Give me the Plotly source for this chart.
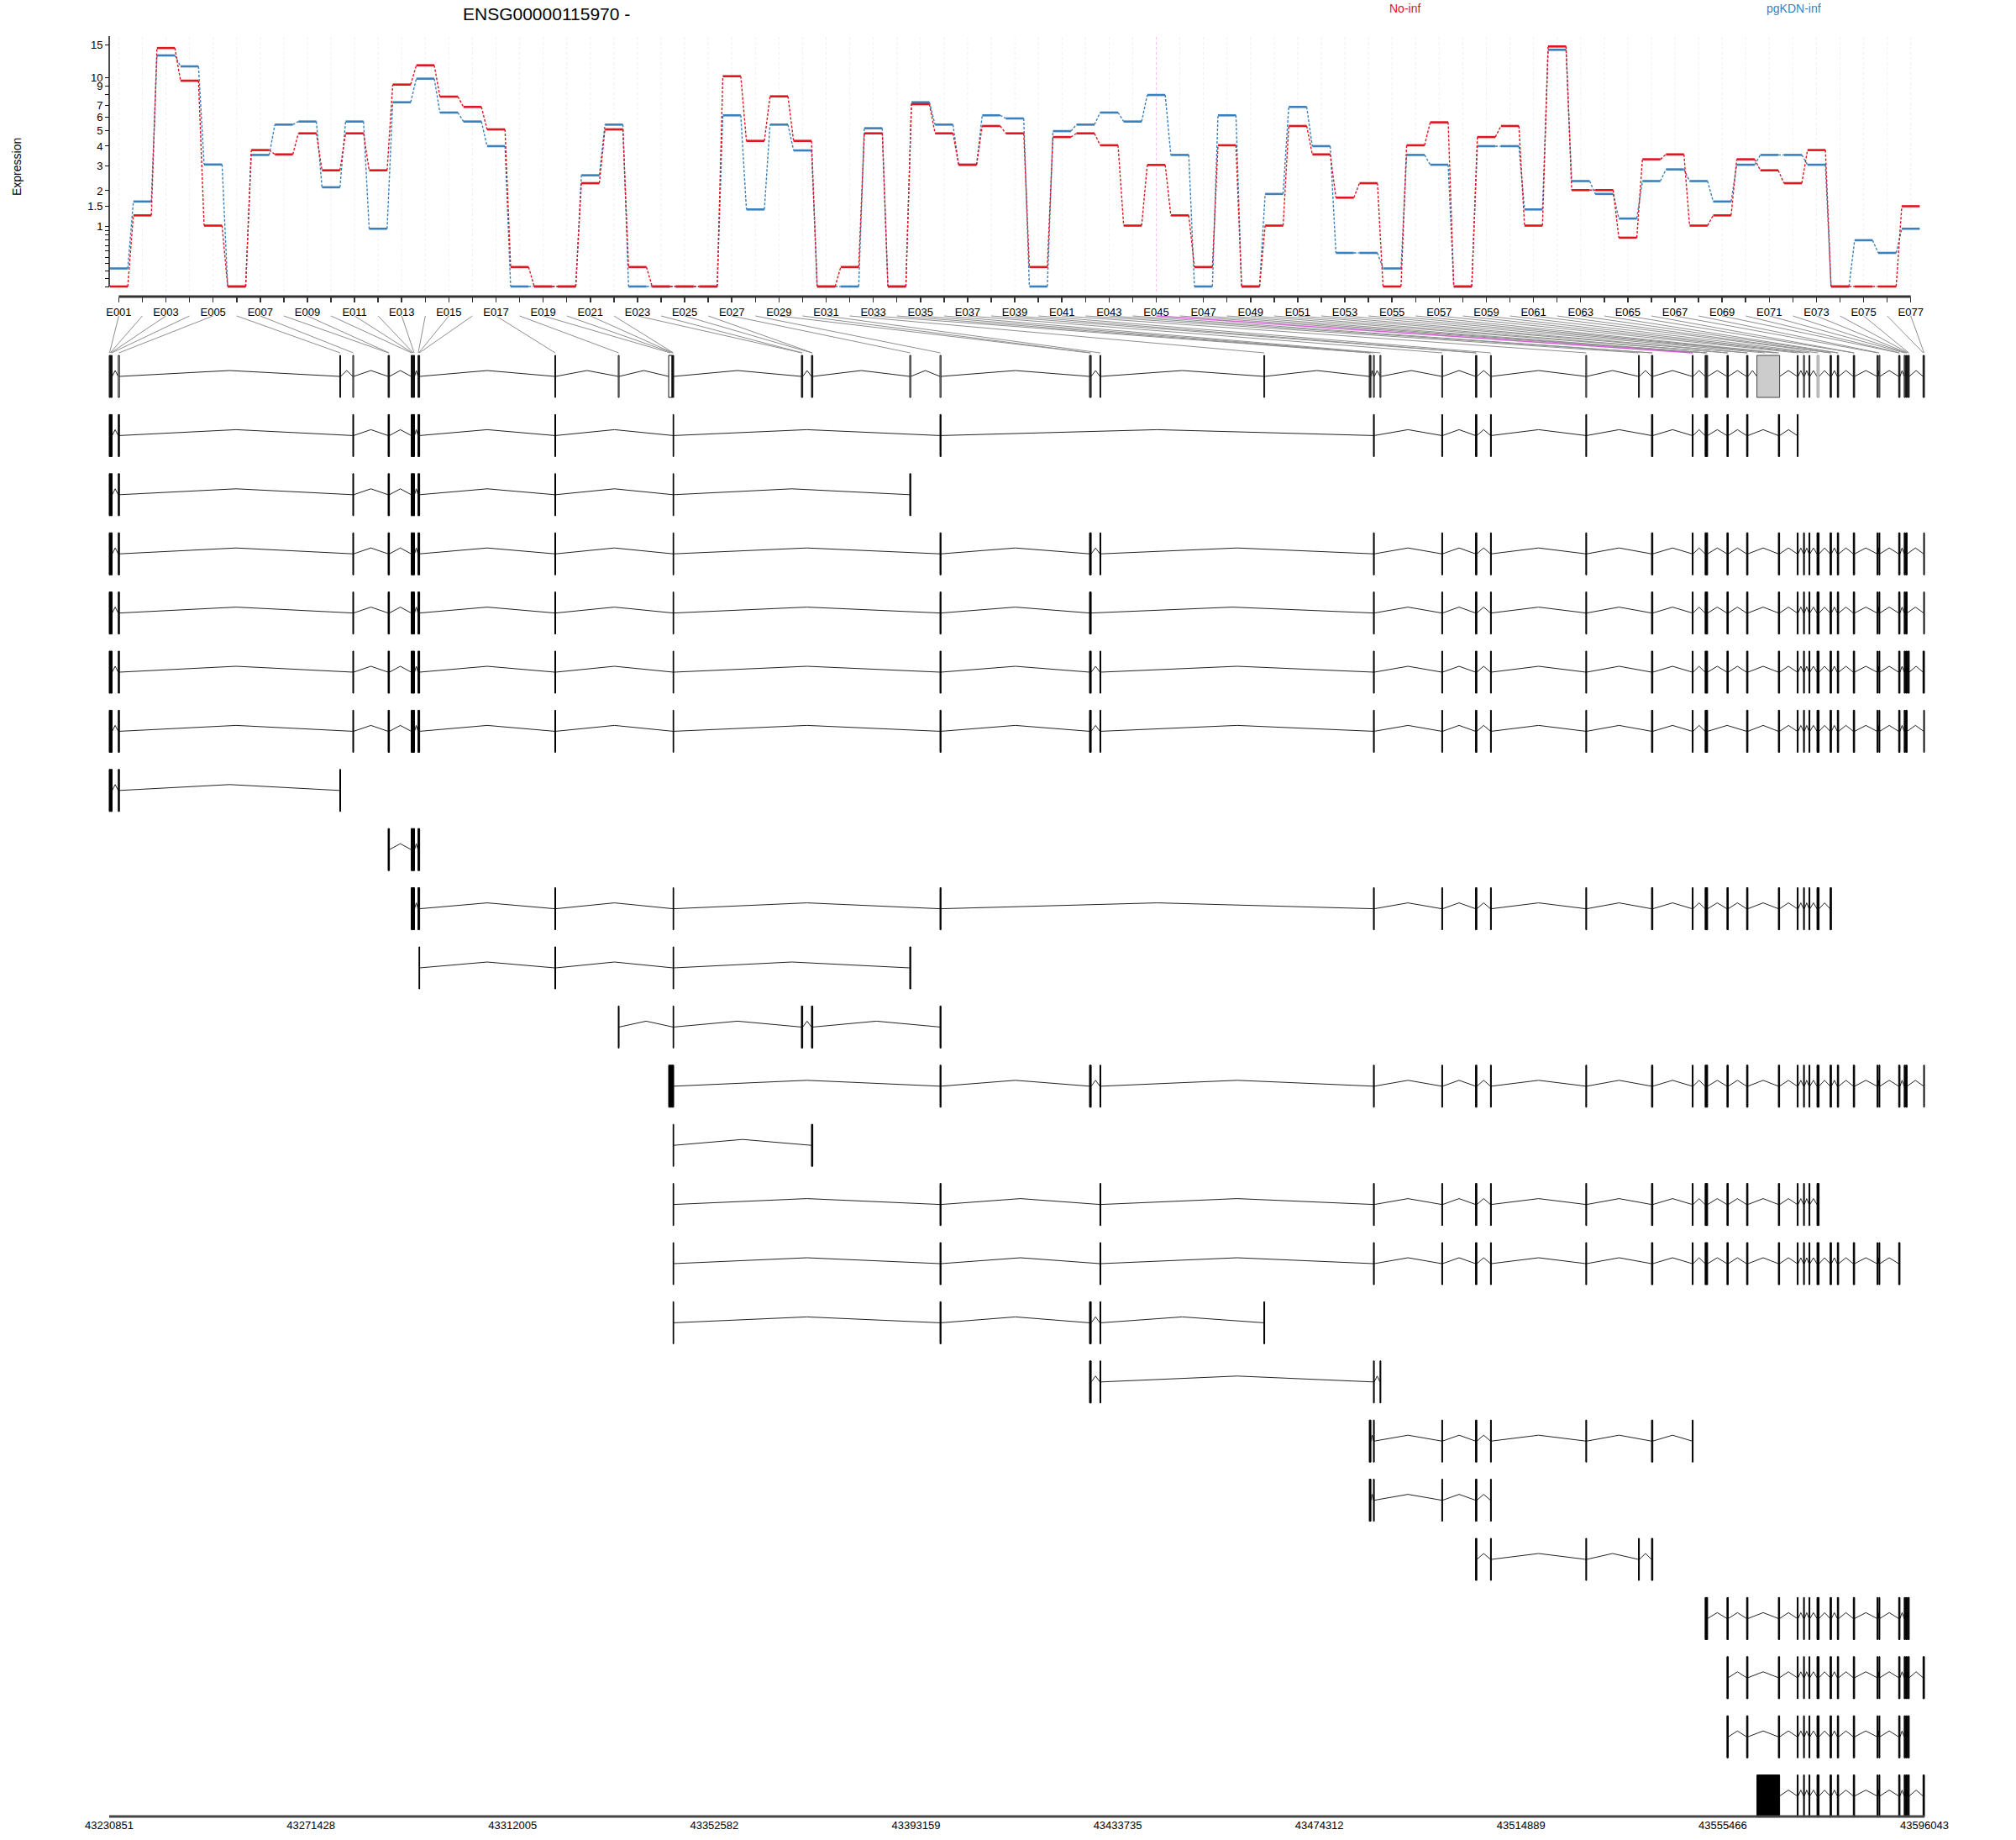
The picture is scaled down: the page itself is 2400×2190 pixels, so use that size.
import math
import plotly.graph_objects as go

W, H = 2400, 2190
PAGE_OFFSET = 0  # body margin is removed after plotting (see post_script)

# ---------------- data ----------------
exon_ids = ["E%03d" % i for i in range(1, 78)]

no_inf = [0, 1.26, 14.4, 9.59, 1.01, 0, 3.78, 3.55, 4.79, 2.79,
          4.79, 2.79, 9.13, 11.64, 7.82, 6.84, 5.06, 0.25, 0, 0,
          2.27, 5.06, 0.25, 0, 0, 0, 10.15, 4.31, 7.85, 4.31,
          0, 0.25, 4.79, 0, 7.09, 4.79, 3.04, 5.30, 4.79, 0.25,
          4.55, 4.79, 4.05, 1.01, 3.03, 1.26, 0.25, 4.05, 0, 1.01,
          5.30, 3.55, 1.77, 2.27, 0, 4.05, 5.57, 0, 4.55, 5.30,
          1.01, 14.68, 2.02, 2.02, 0.75, 3.30, 3.55, 1.01, 1.26, 3.30,
          2.79, 2.27, 3.78, 0, 0, 0, 1.51]

pgkdn_inf = [0.23, 1.65, 13.15, 11.48, 3.05, 0, 3.52, 5.40, 5.63, 2.12,
             5.63, 0.94, 7.27, 9.84, 6.35, 5.63, 4.00, 0, 0, 0,
             2.58, 5.40, 0, 0, 0, 0, 6.12, 1.42, 5.40, 3.76,
             0, 0, 5.14, 0, 7.27, 5.40, 3.04, 6.12, 5.87, 0,
             4.94, 5.40, 6.35, 5.63, 7.99, 3.52, 0, 6.12, 0, 1.89,
             6.84, 4.00, 0.47, 0.47, 0.23, 3.52, 3.04, 0, 4.00, 4.00,
             1.42, 14.09, 2.35, 1.89, 1.18, 2.35, 2.83, 2.35, 1.65, 3.04,
             3.52, 3.52, 3.04, 0, 0.70, 0.47, 0.94]

exon_start = [
    43230851, 43230991, 43231121, 43231261, 43232676, 43277241, 43279861, 43286959, 43287095, 43291607,
    43291777, 43291946, 43292115, 43292975, 43293078, 43293179, 43320506, 43333265, 43343405, 43344075,
    43344193, 43344295, 43370107, 43370243, 43372135, 43372271, 43391908, 43397992, 43428074, 43428244,
    43430170, 43463142, 43484351, 43484521, 43485196, 43486514, 43498936, 43505730, 43505866, 43508738,
    43527919, 43538516, 43541135, 43541271, 43549332, 43551917, 43552087, 43552256, 43556311, 43556447,
    43560266, 43560402, 43562345, 43565472, 43566317, 43566655, 43570457, 43571724, 43572823, 43574428,
    43577064, 43577201, 43578518, 43578654, 43581729, 43581865, 43586512, 43586900, 43590855, 43590991,
    43591970, 43592258, 43592428, 43592714, 43592850, 43595756, 43595892]
exon_end = [
    43230990, 43231120, 43231260, 43231440, 43232913, 43277411, 43280030, 43287094, 43287229, 43291776,
    43291945, 43292114, 43292283, 43293077, 43293178, 43293313, 43320675, 43333434, 43344074, 43344192,
    43344294, 43344419, 43370242, 43370377, 43372270, 43372405, 43392111, 43398195, 43428243, 43428412,
    43430339, 43463311, 43484520, 43484689, 43485365, 43486683, 43499105, 43505865, 43506000, 43508907,
    43528088, 43538685, 43541270, 43541405, 43549501, 43552086, 43552255, 43552424, 43556446, 43556581,
    43560401, 43560536, 43565471, 43566316, 43566654, 43566908, 43570626, 43571893, 43572992, 43574850,
    43577200, 43577334, 43578653, 43578787, 43581864, 43581999, 43586681, 43587069, 43590990, 43591125,
    43592139, 43592427, 43592562, 43592849, 43592984, 43595891, 43596043]

significant_exons = [45]
gray_parts = [53, 54, 55, 56, 60]

transcripts = [
    "1-5,7,8-17,22,28,35,37-41,43-52,56,57",
    "1-5,7,8-17,22,27",
    "1-5,7,8-17,22,28-31,35,37-41,43-52,56-73,77",
    "1-5,7,8-17,22,28-30,35,37-41,43-52,56-73,77",
    "1-5,7,8-17,22,28-31,35,37-41,43-52,56-77",
    "1-5,7,8-17,22,28-31,35,37-41,43-48,51-52,56-73,77",
    "1-6",
    "8-16",
    "10-17,22,28,35,37-41,43-52,56-62",
    "16,17,22,27",
    "18,22,23-26,28",
    "19-22,28-31,35,37-41,43-52,56-73,77",
    "22,25-26",
    "22,28,31,35,37-41,43-52,56-60",
    "22,28,31,35,37-41,43-52,56-70",
    "22,28-32",
    "29-31,35,36",
    "33-35,37-41,43-45",
    "33-35,37-40",
    "38-44",
    "46-52,56-75",
    "49-52,56-77",
    "49-52,56-75",
    "53-77",
]

genome_ticks = [43230851, 43271428, 43312005, 43352582, 43393159,
                43433735, 43474312, 43514889, 43555466, 43596043]

y_tick_values = [0, 0.1, 0.2, 0.3, 0.4, 0.5, 0.6, 0.7, 0.8, 0.9,
                 1, 1.5, 2, 3, 4, 5, 6, 7, 8, 9, 10, 15]
y_tick_labels = ["", "", "", "", "", "", "", "", "", "",
                 "1", "1.5", "2", "3", "4", "5", "6", "7", "", "9", "10", "15"]

conditions = ["No-inf", "pgKDN-inf"]
RED = "#E0151E"
BLUE = "#3A80BC"

# ---------------- helpers ----------------
def rng(s):
    out = []
    for tok in s.split(","):
        if "-" in tok:
            a, b = tok.split("-")
            out += list(range(int(a), int(b) + 1))
        else:
            out.append(int(tok))
    return out


def tv(v):
    return math.log10(v + 1)


def fx(px):
    return (px - PAGE_OFFSET) / W


def fy(px):
    return 1 - (px - PAGE_OFFSET) / H


FONT = "Liberation Sans, Arial, Helvetica, sans-serif"

# geometry (pixels)
PX_L, PX_R = 120, 2300
SLOT = 28.07
ex_r0 = 1 - (141.4 - PX_L) / SLOT
ex_r1 = ex_r0 + (PX_R - PX_L) / SLOT
EY_T, EY_B = 38, 360
EYU = 239.0
ey_r0 = -(EY_B - 341) / EYU
ey_r1 = ey_r0 + (EY_B - EY_T) / EYU


def ey_at(px):
    return ey_r0 + (EY_B - px) / EYU


def ex_at(px):
    return ex_r0 + (px - PX_L) / SLOT


gpp = (genome_ticks[-1] - genome_ticks[0]) / (2291 - 130)
g_r0 = genome_ticks[0] - (130 - PX_L) * gpp
g_r1 = g_r0 + (PX_R - PX_L) * gpp

ROW0 = 448.0
ROWH = 70.4
TY_T, TY_B = 370, 2185
ty_top = -(ROW0 - TY_T) / ROWH
ty_bot = (TY_B - ROW0) / ROWH
HALF = 25 / ROWH
PEAK = 7 / ROWH


def ty_at(px):
    return (px - ROW0) / ROWH


fig = go.Figure()

# ---------------- expression panel ----------------
n = len(exon_ids)
idx = list(range(1, n + 1))
top_v = ey_at(43)

gx, gyy = [], []
for i in idx:
    if i in significant_exons:
        continue
    gx += [i, i, None]
    gyy += [ey_at(347), top_v, None]
fig.add_trace(go.Scatter(x=gx, y=gyy, mode="lines", xaxis="x", yaxis="y",
                         line=dict(color="#EFEFEF", width=1, dash="dot"), hoverinfo="skip"))
sx, sy = [], []
for i in significant_exons:
    sx += [i, i, None]
    sy += [ey_at(347), top_v, None]
fig.add_trace(go.Scatter(x=sx, y=sy, mode="lines", xaxis="x", yaxis="y",
                         line=dict(color="rgba(242,25,237,0.3)", width=1, dash="dot"), hoverinfo="skip"))

HW = 0.381
for vals, col in ((pgkdn_inf, BLUE), (no_inf, RED)):
    cx, cy = [], []
    for k in range(n - 1):
        cx += [idx[k] + HW, idx[k + 1] - HW, None]
        cy += [tv(vals[k]), tv(vals[k + 1]), None]
    fig.add_trace(go.Scatter(x=cx, y=cy, mode="lines", xaxis="x", yaxis="y",
                             line=dict(color=col, width=1.4, dash="3px,2px"), hoverinfo="skip"))
    hx, hy = [], []
    for k in range(n):
        hx += [idx[k] - HW, idx[k] + HW, None]
        hy += [tv(vals[k]), tv(vals[k]), None]
    fig.add_trace(go.Scatter(x=hx, y=hy, mode="lines", xaxis="x", yaxis="y",
                             line=dict(color=col, width=2.6), hoverinfo="skip"))

# axis lines of the expression panel
fig.add_trace(go.Scatter(x=[1, n], y=[ey_at(353), ey_at(353)], mode="lines", xaxis="x", yaxis="y",
                         line=dict(color="#333333", width=3), hoverinfo="skip"))
fig.add_trace(go.Scatter(x=[ex_at(130), ex_at(130)], y=[0, top_v], mode="lines", xaxis="x", yaxis="y",
                         line=dict(color="#111111", width=1.5), hoverinfo="skip"))

# ---------------- gene model & transcripts ----------------
def blocks(parts):
    res = []
    for p in sorted(parts):
        s, e = exon_start[p - 1], exon_end[p - 1]
        if res and s <= res[-1][1] + 1:
            res[-1][1] = max(res[-1][1], e)
            res[-1][2].append(p)
        else:
            res.append([s, e, [p]])
    return res


def rect_xy(s, e, yc):
    return [s, e, e, s, s, None], [yc - HALF, yc - HALF, yc + HALF, yc + HALF, yc - HALF, None]


def idx_to_genome(i):
    return g_r0 + (i - ex_r0) / (ex_r1 - ex_r0) * (g_r1 - g_r0)


# connectors from exon labels to the gene model
cx, cy, mx, my = [], [], [], []
for k, i in enumerate(idx):
    x0 = idx_to_genome(i)
    x1 = (exon_start[k] + exon_end[k]) / 2
    if i in significant_exons:
        mx += [x0, x1, None]
        my += [ty_at(376), ty_at(420), None]
    else:
        cx += [x0, x1, None]
        cy += [ty_at(376), ty_at(420), None]
fig.add_trace(go.Scatter(x=cx, y=cy, mode="lines", xaxis="x2", yaxis="y2",
                         line=dict(color="#8F8F8F", width=1), hoverinfo="skip"))
fig.add_trace(go.Scatter(x=mx, y=my, mode="lines", xaxis="x2", yaxis="y2",
                         line=dict(color="rgba(200,40,200,0.75)", width=1.5), hoverinfo="skip"))

ix, iy = [], []
wx, wy = [], []
grx, gry = [], []
glx, gly = [], []
bx, by = [], []

# gene model row (row 0): parts drawn one by one, grey parts merged
gm = blocks(list(range(1, n + 1)))
for a, b in zip(gm[:-1], gm[1:]):
    ix += [a[1], (a[1] + b[0]) / 2, b[0], None]
    iy += [0, -PEAK, 0, None]
for s, e, ps in blocks([p for p in range(1, n + 1) if p in gray_parts]):
    xs, ys = rect_xy(s, e, 0)
    if e - s > 1000:
        grx += xs; gry += ys
    else:
        glx += xs; gly += ys
for p in range(1, n + 1):
    if p in gray_parts:
        continue
    xs, ys = rect_xy(exon_start[p - 1], exon_end[p - 1], 0)
    wx += xs; wy += ys

# transcript rows
for r, t in enumerate(transcripts, start=1):
    bl = blocks(rng(t))
    for a, b in zip(bl[:-1], bl[1:]):
        ix += [a[1], (a[1] + b[0]) / 2, b[0], None]
        iy += [r, r - PEAK, r, None]
    for s, e, ps in bl:
        xs, ys = rect_xy(s, e, r)
        bx += xs; by += ys

fig.add_trace(go.Scatter(x=ix, y=iy, mode="lines", xaxis="x2", yaxis="y2",
                         line=dict(color="#222222", width=1), hoverinfo="skip"))
fig.add_trace(go.Scatter(x=wx, y=wy, mode="lines", xaxis="x2", yaxis="y2", fill="toself",
                         fillcolor="white", line=dict(color="#111111", width=1), hoverinfo="skip"))
fig.add_trace(go.Scatter(x=grx, y=gry, mode="lines", xaxis="x2", yaxis="y2", fill="toself",
                         fillcolor="#CCCCCC", line=dict(color="#444444", width=1), hoverinfo="skip"))
fig.add_trace(go.Scatter(x=glx, y=gly, mode="lines", xaxis="x2", yaxis="y2", fill="toself",
                         fillcolor="#CCCCCC", line=dict(color="#A0A0A0", width=1), hoverinfo="skip"))
fig.add_trace(go.Scatter(x=bx, y=by, mode="lines", xaxis="x2", yaxis="y2", fill="toself",
                         fillcolor="black", line=dict(color="black", width=1), hoverinfo="skip"))

# genomic axis line
fig.add_trace(go.Scatter(x=[genome_ticks[0], genome_ticks[-1]], y=[ty_at(2162), ty_at(2162)],
                         mode="lines", xaxis="x2", yaxis="y2",
                         line=dict(color="#444444", width=3), hoverinfo="skip"))

# ---------------- layout ----------------
fig.update_layout(
    width=W, height=H, autosize=False,
    margin=dict(l=0, r=0, t=0, b=0, pad=0, autoexpand=False),
    paper_bgcolor="white", plot_bgcolor="rgba(0,0,0,0)", showlegend=False,
    font=dict(family=FONT, color="black", size=13),
    xaxis=dict(domain=[fx(PX_L), fx(PX_R)], range=[ex_r0, ex_r1], anchor="free", position=fy(353),
               tickmode="array", tickvals=idx,
               ticktext=[e if (i % 2 == 1) else "" for i, e in zip(idx, exon_ids)],
               ticks="outside", ticklen=6, tickwidth=1.5, tickcolor="#333333", tickangle=0,
               showgrid=False, zeroline=False, showline=False, automargin=False,
               tickfont=dict(size=13)),
    yaxis=dict(domain=[fy(EY_B), fy(EY_T)], range=[ey_r0, ey_r1], anchor="free", position=fx(130),
               tickmode="array", tickvals=[tv(v) for v in y_tick_values], ticktext=y_tick_labels,
               ticks="outside", ticklen=5, tickwidth=1, tickcolor="#111111",
               showgrid=False, zeroline=False, showline=False, automargin=False,
               tickfont=dict(size=13)),
    xaxis2=dict(domain=[fx(PX_L), fx(PX_R)], range=[g_r0, g_r1], anchor="free", position=fy(2163),
                tickmode="array", tickvals=genome_ticks, ticktext=[str(t) for t in genome_ticks],
                ticks="", showgrid=False, zeroline=False, showline=False, automargin=False,
                tickfont=dict(size=13)),
    yaxis2=dict(domain=[fy(TY_B), fy(TY_T)], range=[ty_bot, ty_top], anchor="x2",
                visible=False, showgrid=False, zeroline=False, automargin=False),
    annotations=[
        dict(text="ENSG00000115970 -", x=fx(650), y=fy(16), xref="paper", yref="paper",
             showarrow=False, font=dict(size=21), xanchor="center", yanchor="middle"),
        dict(text=conditions[0], x=fx(1672), y=fy(10), xref="paper", yref="paper",
             showarrow=False, font=dict(size=14, color=RED), xanchor="center", yanchor="middle"),
        dict(text=conditions[1], x=fx(2135), y=fy(10), xref="paper", yref="paper",
             showarrow=False, font=dict(size=14, color=BLUE), xanchor="center", yanchor="middle"),
        dict(text="Expression", x=fx(20), y=fy(199), xref="paper", yref="paper", textangle=-90,
             showarrow=False, font=dict(size=14), xanchor="center", yanchor="middle"),
    ],
)

fig.write_html("out.html",
               config={"displayModeBar": False, "staticPlot": True},
               post_script="document.body.style.margin='0';document.body.style.padding='0';")
